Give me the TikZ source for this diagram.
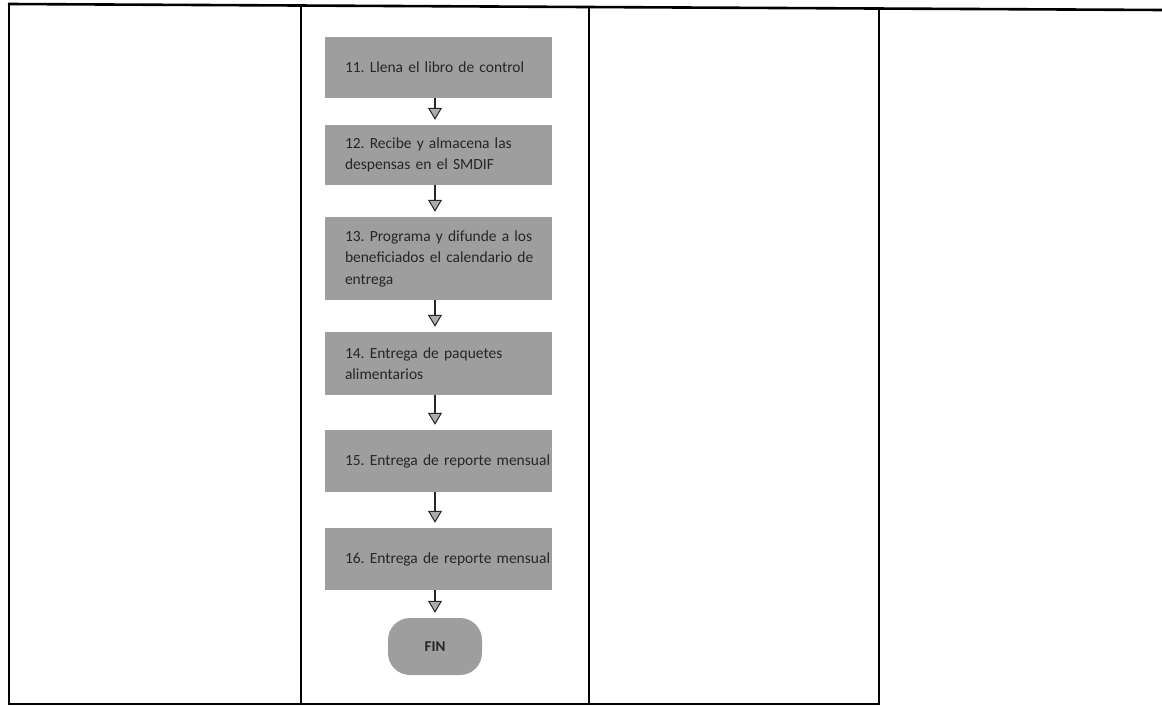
\documentclass[tikz,border=0pt]{standalone}
\usepackage{fontspec}
\setmainfont{Carlito}
\usetikzlibrary{arrows.meta}
\definecolor{boxgray}{gray}{0.62}
\frenchspacing
\begin{document}
\begin{tikzpicture}[x=1pt,y=-1pt,
  rule/.style={line width=2.6pt, black},
  stepbox/.style={rectangle, fill=boxgray, text=black!85, inner xsep=0pt, inner ysep=2pt,
    text width=227pt, align=left, font=\fontsize{15.5}{21.5}\selectfont,
    execute at begin node={\leftskip=20pt\rightskip=-4pt plus 2em\hyphenpenalty=10000\relax}},
  endbox/.style={rectangle, rounded corners=22pt, fill=boxgray, text=black!85,
    minimum width=94pt, minimum height=57pt, font=\fontsize{15}{18}\selectfont\bfseries},
  flow/.style={line width=1.8pt, black!85, shorten >=5pt,
    -{Triangle[length=12pt,width=14pt,fill=gray!65,line width=1pt]}}]
\useasboundingbox (0,0) rectangle (1162,706);

% table frame: top, bottom and the column rules
\draw[rule] (8,4) -- (1162,10);
\draw[rule] (8,704) -- (878,704);
\draw[rule] (9,3) -- (9,705);
\draw[rule,line width=2.2pt] (301,6) -- (301,705);
\draw[rule,line width=2.2pt] (589,8) -- (589,705);
\draw[rule,line width=2.2pt] (879,9) -- (879,705);

% process steps
\node[stepbox, minimum height=61pt] (b11) at (438.5,67.5) {11. Llena el libro de control};
\node[stepbox, minimum height=60pt] (b12) at (438.5,155) {12. Recibe y almacena las\\despensas en el SMDIF};
\node[stepbox, minimum height=83pt] (b13) at (438.5,258.5) {13. Programa y difunde a los\\beneficiados el calendario de\\entrega};
\node[stepbox, minimum height=63pt] (b14) at (438.5,363.5) {14. Entrega de paquetes\\alimentarios};
\node[stepbox, minimum height=62pt] (b15) at (438.5,461) {15. Entrega de reporte mensual};
\node[stepbox, minimum height=62pt] (b16) at (438.5,559) {16. Entrega de reporte mensual};
\node[endbox] (fin) at (435,646.5) {FIN};

% connectors
\draw[flow] (b11.south -| 435,0) -- (b12.north -| 435,0);
\draw[flow] (b12.south -| 435,0) -- (b13.north -| 435,0);
\draw[flow] (b13.south -| 435,0) -- (b14.north -| 435,0);
\draw[flow] (b14.south -| 435,0) -- (b15.north -| 435,0);
\draw[flow] (b15.south -| 435,0) -- (b16.north -| 435,0);
\draw[flow] (b16.south -| 435,0) -- (fin);
\end{tikzpicture}
\end{document}
